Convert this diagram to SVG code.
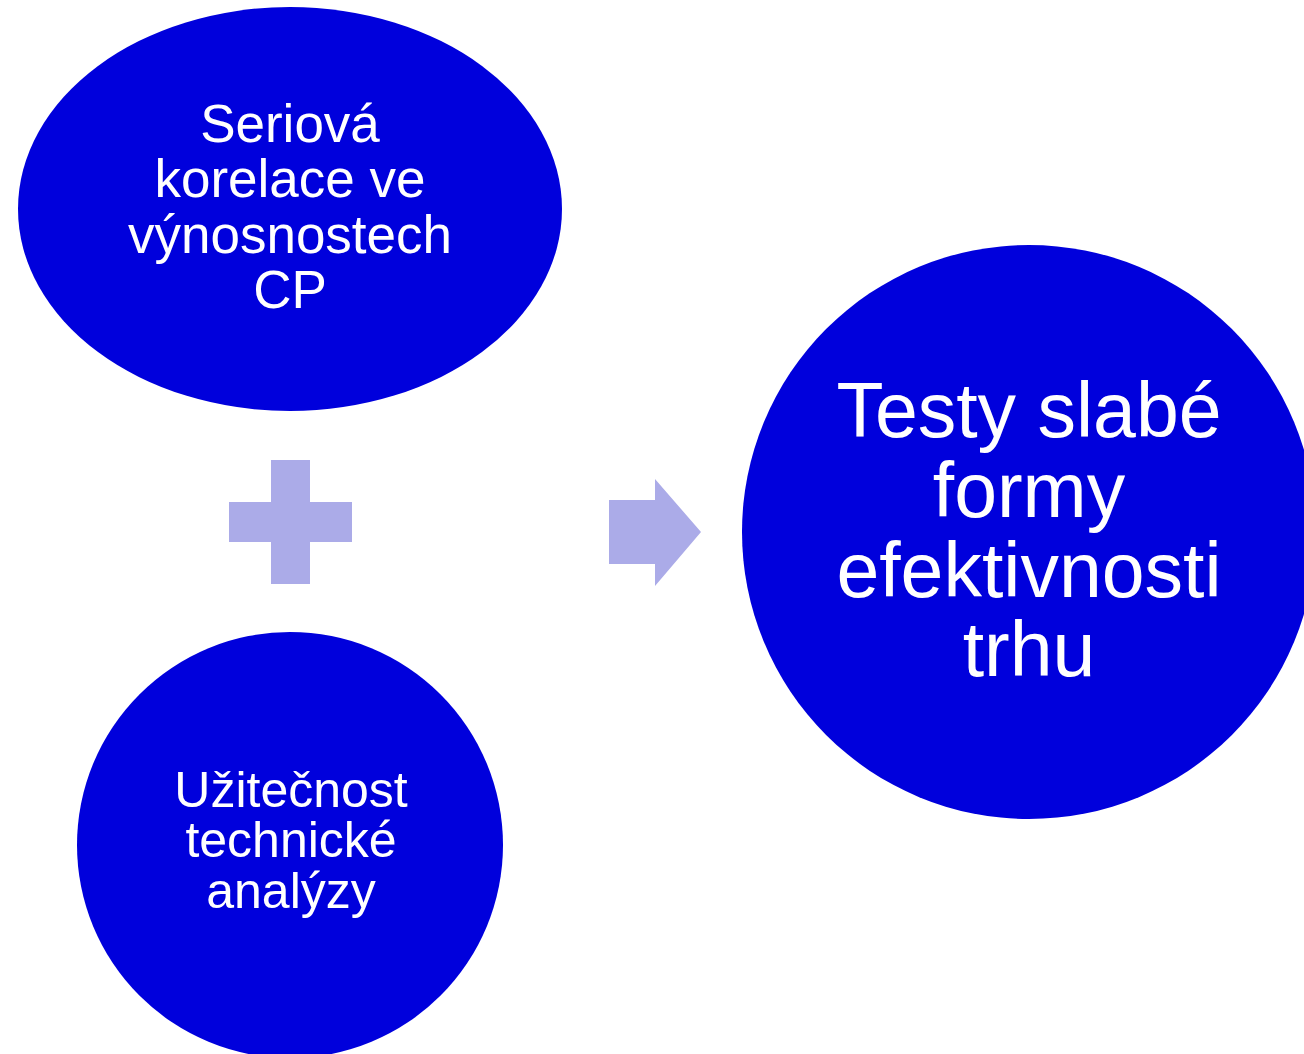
<svg xmlns="http://www.w3.org/2000/svg" width="1304" height="1054" viewBox="0 0 1304 1054">
<style>
.node{fill:#0000DC;}
.t{fill:#FFFFFF;font-family:"Liberation Sans",Arial,sans-serif;text-anchor:middle;}
.op{fill:#ABABE8;}
</style>
<rect width="1304" height="1054" fill="#FFFFFF"/>
<g id="node-seriova">
<ellipse class="node" cx="290" cy="209" rx="272" ry="202"/>
<text class="t" font-size="53"><tspan x="290" y="142">Seriová</tspan><tspan x="290" y="197">korelace ve</tspan><tspan x="290" y="253">výnosnostech</tspan><tspan x="290" y="308">CP</tspan></text>
</g>
<g id="node-uzitecnost">
<circle class="node" cx="290" cy="845" r="213"/>
<text class="t" font-size="50"><tspan x="291" y="807">Užitečnost</tspan><tspan x="291" y="857">technické</tspan><tspan x="291" y="908">analýzy</tspan></text>
</g>
<g id="node-testy">
<circle class="node" cx="1029" cy="532" r="287"/>
<text class="t" font-size="77"><tspan x="1029" y="437">Testy slabé</tspan><tspan x="1029" y="517">formy</tspan><tspan x="1029" y="597">efektivnosti</tspan><tspan x="1029" y="676">trhu</tspan></text>
</g>
<g id="connectors">
<path id="plus" class="op" d="M271,460 H310 V502 H352 V542 H310 V584 H271 V542 H229 V502 H271 Z"/>
<path id="arrow" class="op" d="M609,500 H655 V479 L701,532 L655,586 V564 H609 Z"/>
</g>
</svg>
